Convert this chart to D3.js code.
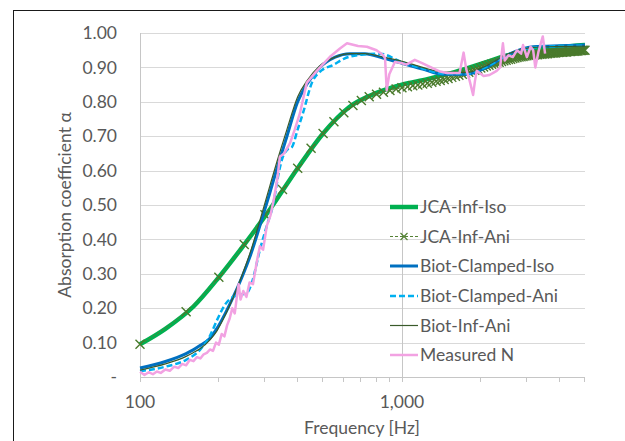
<!DOCTYPE html>
<html>
<head>
<meta charset="utf-8">
<script src="https://cdn.jsdelivr.net/npm/d3@7"></script>
<style>
  body { margin: 0; background: #fff; }
  svg { display: block; }
  text { font-family: Lato, "Open Sans", sans-serif; fill: #595959; }
</style>
</head>
<body>
<div id="chart"></div>
<script>
// JCA-Inf-Iso (thick green line)
const jcaIsoFreq = [100, 125, 160, 200, 250, 315, 400, 500, 630, 800, 1000, 1250, 1600, 2000, 2500, 3150, 4000, 5000];
const jcaIsoVals = [0.095, 0.14, 0.205, 0.29, 0.385, 0.49, 0.607, 0.708, 0.785, 0.826, 0.85, 0.866, 0.887, 0.91, 0.934, 0.95, 0.959, 0.965];

// JCA-Inf-Ani (dashed with x markers every 50 Hz)
const jcaAniFreq = [100, 150, 200, 250, 300, 350, 400, 450, 500, 550, 600, 650, 700, 750, 800, 850, 900, 950,
  1000, 1050, 1100, 1150, 1200, 1250, 1300, 1350, 1400, 1450, 1500, 1550, 1600, 1650, 1700, 1750, 1800, 1850, 1900, 1950,
  2000, 2050, 2100, 2150, 2200, 2250, 2300, 2350, 2400, 2450, 2500, 2550, 2600, 2650, 2700, 2750, 2800, 2850, 2900, 2950,
  3000, 3050, 3100, 3150, 3200, 3250, 3300, 3350, 3400, 3450, 3500, 3550, 3600, 3650, 3700, 3750, 3800, 3850, 3900, 3950,
  4000, 4050, 4100, 4150, 4200, 4250, 4300, 4350, 4400, 4450, 4500, 4550, 4600, 4650, 4700, 4750, 4800, 4850, 4900, 4950, 5000];
const jcaAniVals = [0.095, 0.19, 0.29, 0.385, 0.472, 0.545, 0.607, 0.665, 0.708, 0.742, 0.768, 0.789, 0.804, 0.815, 0.822, 0.828, 0.833, 0.837,
  0.841, 0.844, 0.847, 0.849, 0.852, 0.854, 0.857, 0.860, 0.862, 0.865, 0.868, 0.871, 0.874, 0.877, 0.880, 0.883, 0.886, 0.889, 0.892, 0.895,
  0.898, 0.901, 0.904, 0.906, 0.909, 0.911, 0.913, 0.915, 0.917, 0.919, 0.921, 0.923, 0.924, 0.926, 0.927, 0.929, 0.930, 0.931, 0.932, 0.933,
  0.934, 0.935, 0.935, 0.936, 0.936, 0.937, 0.937, 0.938, 0.938, 0.939, 0.939, 0.940, 0.940, 0.941, 0.941, 0.942, 0.942, 0.942, 0.943, 0.943,
  0.944, 0.944, 0.944, 0.945, 0.945, 0.945, 0.946, 0.946, 0.946, 0.947, 0.947, 0.947, 0.948, 0.948, 0.948, 0.949, 0.949, 0.949, 0.950, 0.950, 0.950];

// Biot-Clamped-Iso
const biotClIsoFreq = [100, 125, 150, 159, 170, 185, 197, 210, 227, 245, 263, 287, 313, 333, 364, 400, 433, 486, 556, 633, 723, 847, 1000, 1200, 1436, 1770, 2106, 2510, 3174, 4000, 5000];
const biotClIsoVals = [0.026, 0.045, 0.068, 0.078, 0.092, 0.113, 0.142, 0.18, 0.233, 0.29, 0.35, 0.44, 0.535, 0.605, 0.70, 0.80, 0.85, 0.90, 0.93, 0.94, 0.94, 0.927, 0.912, 0.895, 0.88, 0.88, 0.90, 0.935, 0.96, 0.963, 0.965];

// Biot-Clamped-Ani
const biotClAniFreq = [100, 125, 150, 170, 185, 197, 211, 227, 245, 256, 267, 287, 305, 322, 340, 351, 364, 380, 400, 419, 453, 495, 546, 600, 700, 823, 1000, 1200, 1436, 1770, 2106, 2510, 3174, 4000, 5000];
const biotClAniVals = [0.017, 0.03, 0.05, 0.08, 0.12, 0.166, 0.21, 0.233, 0.24, 0.244, 0.273, 0.37, 0.44, 0.50, 0.60, 0.64, 0.66, 0.668, 0.72, 0.767, 0.855, 0.892, 0.907, 0.925, 0.937, 0.94, 0.915, 0.897, 0.882, 0.882, 0.902, 0.935, 0.958, 0.962, 0.963];

// Biot-Inf-Ani
const biotInfAniFreq = [100, 125, 150, 159, 170, 185, 197, 210, 227, 245, 263, 287, 313, 333, 364, 400, 433, 486, 556, 633, 723, 847, 1000, 1200, 1436, 1770, 2106, 2510, 3174, 4000, 5000];
const biotInfAniVals = [0.02, 0.038, 0.06, 0.07, 0.083, 0.108, 0.135, 0.175, 0.232, 0.295, 0.36, 0.455, 0.555, 0.625, 0.72, 0.815, 0.86, 0.905, 0.93, 0.94, 0.94, 0.93, 0.918, 0.90, 0.886, 0.885, 0.905, 0.937, 0.958, 0.961, 0.962];

// Measured N
const measFreq = [100, 104, 108, 112, 116, 120, 125, 130, 135, 140, 145, 150, 155, 160, 165, 170, 175, 180, 185, 190, 195, 200, 205, 210, 215, 220, 225, 230, 235, 238, 242, 248, 255, 262, 270, 280, 287, 295, 305, 315, 325, 335, 342, 355, 374, 390, 408, 433, 473, 530, 580, 617, 680, 735, 800, 847, 862, 875, 895, 940, 1000, 1040, 1120, 1200, 1310, 1400, 1485, 1660, 1720, 1760, 1815, 1870, 1900, 1930, 2050, 2160, 2300, 2370, 2430, 2470, 2550, 2650, 2750, 2850, 2900, 3000, 3100, 3170, 3230, 3320, 3450, 3520];
const measVals = [0.015, 0.006, 0.014, 0.008, 0.016, 0.012, 0.022, 0.018, 0.03, 0.026, 0.038, 0.034, 0.05, 0.046, 0.058, 0.054, 0.066, 0.07, 0.08, 0.076, 0.10, 0.094, 0.125, 0.118, 0.15, 0.17, 0.20, 0.185, 0.24, 0.27, 0.225, 0.25, 0.233, 0.275, 0.27, 0.34, 0.38, 0.37, 0.44, 0.47, 0.52, 0.58, 0.64, 0.65, 0.68, 0.72, 0.767, 0.855, 0.89, 0.93, 0.955, 0.97, 0.962, 0.96, 0.95, 0.936, 0.927, 0.834, 0.88, 0.916, 0.912, 0.908, 0.922, 0.912, 0.898, 0.888, 0.884, 0.884, 0.943, 0.895, 0.86, 0.82, 0.86, 0.89, 0.875, 0.878, 0.89, 0.90, 0.97, 0.92, 0.935, 0.93, 0.95, 0.94, 0.965, 0.93, 0.96, 0.95, 0.90, 0.945, 0.99, 0.94];

const yTicks = [0, 0.1, 0.2, 0.3, 0.4, 0.5, 0.6, 0.7, 0.8, 0.9, 1.0];
const xMajor = [100, 1000];
const xMinor = [200, 300, 400, 500, 600, 700, 800, 900, 2000, 3000, 4000, 5000];

const width = 625, height = 441;
const fontSize = 17.5;
const svg = d3.select("#chart").append("svg").attr("width", width).attr("height", height);

// outer chart border (cropped at right and bottom)
svg.append("rect").attr("x", 13.5).attr("y", 10.5).attr("width", 700).attr("height", 500)
  .attr("fill", "none").attr("stroke", "#1a1a1a").attr("stroke-width", 1);

const x = d3.scaleLog([100, 5000], [140, 585]);
const y = d3.scaleLinear([0, 1], [377, 33]);

// horizontal gridlines
svg.append("g").selectAll("line").data(yTicks.slice(1)).join("line")
  .attr("x1", x(100)).attr("x2", x(5000))
  .attr("y1", d => Math.round(y(d)) + 0.5).attr("y2", d => Math.round(y(d)) + 0.5)
  .attr("stroke", "#d9d9d9");

// vertical gridlines (100 = axis, 1000)
svg.append("g").selectAll("line").data(xMajor).join("line")
  .attr("x1", d => Math.round(x(d)) + 0.5).attr("x2", d => Math.round(x(d)) + 0.5)
  .attr("y1", y(1)).attr("y2", y(0) + 5)
  .attr("stroke", "#c6c6c6");

// bottom axis line + minor ticks
svg.append("line").attr("x1", x(100)).attr("x2", x(5000))
  .attr("y1", Math.round(y(0)) + 0.5).attr("y2", Math.round(y(0)) + 0.5).attr("stroke", "#c6c6c6");
svg.append("g").selectAll("line").data(xMinor).join("line")
  .attr("x1", d => Math.round(x(d)) - 0.5).attr("x2", d => Math.round(x(d)) - 0.5)
  .attr("y1", y(0)).attr("y2", y(0) + 5)
  .attr("stroke", "#c6c6c6");

// y tick labels
svg.append("g").selectAll("text").data(yTicks).join("text")
  .attr("x", 117).attr("y", d => y(d)).attr("dy", "0.35em")
  .attr("text-anchor", "end").attr("font-size", fontSize)
  .text(d => d === 0 ? "-" : d3.format(".2f")(d));

// x tick labels
svg.append("g").selectAll("text").data(xMajor).join("text")
  .attr("x", d => x(d)).attr("y", 402).attr("dy", "0.35em")
  .attr("text-anchor", "middle").attr("font-size", fontSize)
  .text(d => d3.format(",")(d));

// axis titles
svg.append("text").attr("x", 362).attr("y", 428).attr("dy", "0.35em")
  .attr("text-anchor", "middle").attr("font-size", fontSize).text("Frequency [Hz]");
svg.append("text").attr("transform", "translate(65,205) rotate(-90)").attr("dy", "0.35em")
  .attr("text-anchor", "middle").attr("font-size", fontSize).text("Absorption coefficient α");

const zip = (fs, vs) => fs.map((f, i) => [f, vs[i]]);
const smooth = d3.line().x(d => x(d[0])).y(d => y(d[1])).curve(d3.curveMonotoneX);
const straight = d3.line().x(d => x(d[0])).y(d => y(d[1]));

const series = [
  { name: "JCA-Inf-Iso", data: zip(jcaIsoFreq, jcaIsoVals), color: "#00b050", w: 4.5, dash: null, line: smooth },
  { name: "JCA-Inf-Ani", data: zip(jcaAniFreq, jcaAniVals), color: "#548235", w: 1, dash: "3,2", line: smooth, marker: true },
  { name: "Biot-Clamped-Iso", data: zip(biotClIsoFreq, biotClIsoVals), color: "#0070c0", w: 3, dash: null, line: smooth },
  { name: "Biot-Clamped-Ani", data: zip(biotClAniFreq, biotClAniVals), color: "#00b0f0", w: 2.5, dash: "6,3", line: smooth },
  { name: "Biot-Inf-Ani", data: zip(biotInfAniFreq, biotInfAniVals), color: "#3a5a2a", w: 1.2, dash: null, line: smooth },
  { name: "Measured N", data: zip(measFreq, measVals), color: "#f2a2e2", w: 2.5, dash: null, line: straight }
];

const plot = svg.append("g");
series.forEach(s => {
  plot.append("path").attr("d", s.line(s.data))
    .attr("fill", "none").attr("stroke", s.color).attr("stroke-width", s.w)
    .attr("stroke-dasharray", s.dash).attr("stroke-linejoin", "round");
  if (s.marker) {
    plot.append("g").selectAll("path").data(s.data).join("path")
      .attr("d", d => {
        const cx = x(d[0]), cy = y(d[1]), r = 4.5;
        return `M${cx - r},${cy - r}L${cx + r},${cy + r}M${cx - r},${cy + r}L${cx + r},${cy - r}`;
      })
      .attr("stroke", "#4a7a2c").attr("stroke-width", 1.4).attr("fill", "none");
  }
});

// legend
const legY = [207, 236.5, 266, 296, 325.5, 355];
const leg = svg.append("g").selectAll("g").data(series).join("g")
  .attr("transform", (d, i) => `translate(390,${legY[i]})`);
leg.append("line").attr("x1", 0).attr("x2", 28).attr("y1", 0).attr("y2", 0)
  .attr("stroke", d => d.color).attr("stroke-width", d => d.w)
  .attr("stroke-dasharray", d => d.dash);
leg.filter(d => d.marker).append("path").attr("d", "M10.5,-3.5L17.5,3.5M10.5,3.5L17.5,-3.5")
  .attr("stroke", d => d.color).attr("stroke-width", 1.2);
leg.append("text").attr("x", 30).attr("dy", "0.35em").attr("font-size", fontSize).text(d => d.name);
</script>
</body>
</html>
